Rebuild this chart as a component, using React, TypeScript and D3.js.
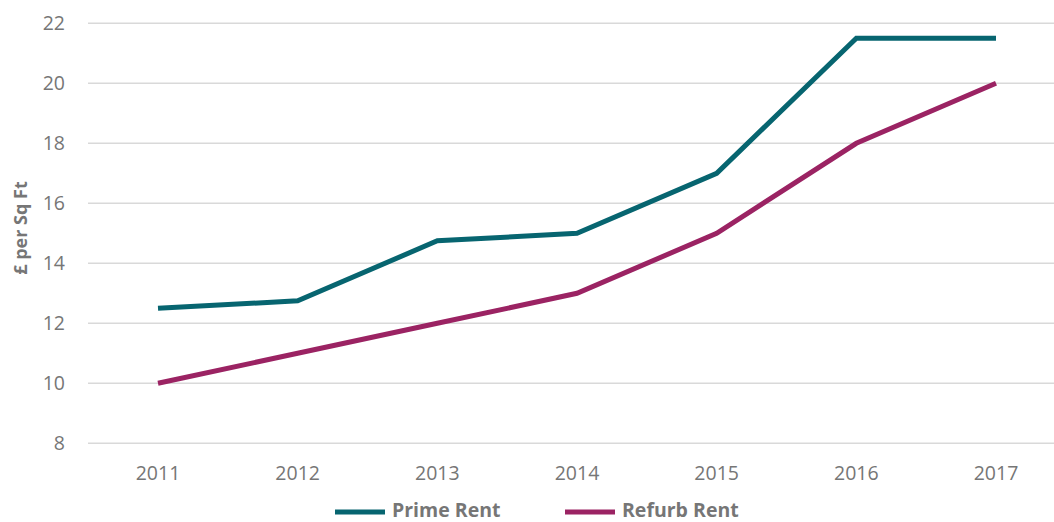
import React from "react";
import * as d3 from "d3";

const years = ["2011", "2012", "2013", "2014", "2015", "2016", "2017"];
const primeRent = [12.5, 12.75, 14.75, 15, 17, 21.5, 21.5];
const refurbRent = [10, 11, 12, 13, 15, 18, 20];
const yTicks = [8, 10, 12, 14, 16, 18, 20, 22];
const seriesNames = ["Prime Rent", "Refurb Rent"];
const colors = ["#076570", "#9B2363"];

const W = 1054;
const H = 522;
const FONT = "'Open Sans', 'Liberation Sans', sans-serif";

export default function App() {
  const x = d3.scalePoint<string>().domain(years).range([158, 996]);
  const y = d3.scaleLinear().domain([8, 22]).range([443.3, 23.3]);
  const line = d3
    .line<number>()
    .x((_, i) => x(years[i]) as number)
    .y((d) => y(d));
  const series = [primeRent, refurbRent];
  const legendX = [335, 565];

  return (
    <svg
      width={W}
      height={H}
      style={{ position: "absolute", left: 0, top: 0, background: "#fff" }}
      fontFamily={FONT}
    >
      {yTicks.map((t) => (
        <g key={t}>
          <line x1={88} x2={W} y1={y(t)} y2={y(t)} stroke="#d9d9d9" strokeWidth={1.5} />
          <text x={65} y={y(t)} dy="0.35em" textAnchor="end" fontSize={19.5} fill="#767676">
            {t}
          </text>
        </g>
      ))}
      {years.map((yr) => (
        <text key={yr} x={x(yr)} y={480} textAnchor="middle" fontSize={19.5} fill="#767676">
          {yr}
        </text>
      ))}
      <text
        transform={`translate(27,228) rotate(-90)`}
        textAnchor="middle"
        fontSize={18}
        fontWeight="bold"
        fill="#767676"
      >
        £ per Sq Ft
      </text>
      {series.map((s, i) => (
        <path key={i} d={line(s) || ""} fill="none" stroke={colors[i]} strokeWidth={5} strokeLinejoin="miter" />
      ))}
      {seriesNames.map((n, i) => (
        <g key={n}>
          <line x1={legendX[i]} x2={legendX[i] + 50} y1={512} y2={512} stroke={colors[i]} strokeWidth={5} />
          <text x={legendX[i] + 57} y={517} fontSize={19.5} fontWeight="bold" fill="#767676">
            {n}
          </text>
        </g>
      ))}
    </svg>
  );
}
